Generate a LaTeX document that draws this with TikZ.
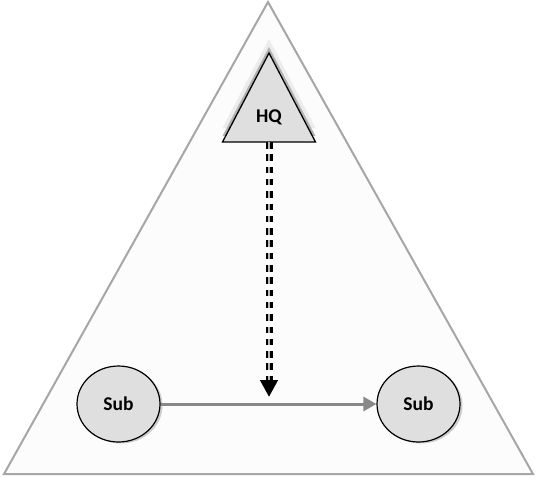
\documentclass[tikz,border=0pt]{standalone}
\usepackage{fontspec}
\setmainfont{Carlito}
\usepackage{tikz}
\usetikzlibrary{arrows.meta,shadows,shapes.geometric}

\definecolor{gris}{HTML}{888888}

\begin{document}
\begin{tikzpicture}[x=1pt, y=-1pt,
  marco/.style={draw=gray!70, line width=2pt, fill=gray!2},
  texto/.style={font=\fontsize{19.5}{23}\selectfont\bfseries},
  sub/.style={ellipse, draw, line width=1.2pt, fill=gray!25, minimum width=83pt,
    minimum height=76pt, texto, drop shadow={shadow xshift=2.5pt, shadow yshift=-1.5pt, fill=gray!75}},
  flujo/.style={draw=gris, line width=3pt, -{Triangle[length=13pt,width=14pt]}},
  orden/.style={line width=7pt, dash pattern=on 6.5pt off 5.8pt, -{Triangle[length=17pt,width=17pt]},
    postaction={draw=gray!55, line width=2.2pt, -, shorten >=17pt}}
]
  \useasboundingbox (0,0) rectangle (537,477);
  % outer frame
  \draw[marco] (268,2) -- (533,474) -- (4,474) -- cycle;
  % HQ triangle with its shadows
  \fill[gray!15] (269,39) -- (315.5,128) -- (222.5,128) -- cycle;
  \fill[gray!60] (269,47) -- (315.5,136) -- (222.5,136) -- cycle;
  \draw[line width=1.3pt, fill=gray!25] (269,53) -- (315.5,142) -- (222.5,142) -- cycle;
  \node[texto] (hq) at (269,117) {HQ};
  \coordinate (hqbase) at (269,142);
  \coordinate (drop) at (269,397);
  % subsidiaries
  \node[sub] (s1) at (118.5,404) {Sub};
  \node[sub] (s2) at (418.5,404) {Sub};
  \draw[flujo] (s1) -- (s2);
  \draw[orden] (hqbase) -- (drop);
\end{tikzpicture}
\end{document}
